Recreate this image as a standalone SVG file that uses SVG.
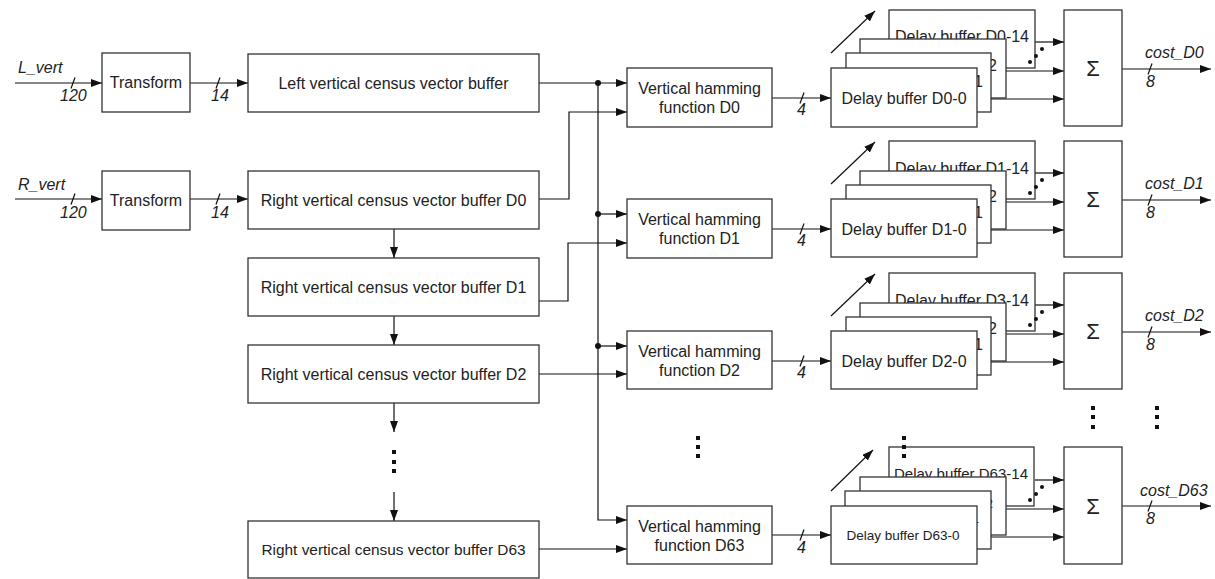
<svg xmlns="http://www.w3.org/2000/svg" width="1215" height="579" viewBox="0 0 1215 579">
<style>
.box{fill:#fff;stroke:#333;stroke-width:1.3}
.ln{fill:none;stroke:#111;stroke-width:1.2}
.ar{fill:none;stroke:#111;stroke-width:1.2;marker-end:url(#ah)}
.t{font-family:"Liberation Sans",Arial,sans-serif;font-size:16px;fill:#222}
.m{text-anchor:middle}
.e{text-anchor:end}
.i{font-style:italic}
.dot{fill:#111}
</style>
<defs>
<marker id="ah" markerUnits="userSpaceOnUse" markerWidth="11" markerHeight="8" refX="11" refY="4" orient="auto">
<path d="M0,0 L11,4 L0,8 z" fill="#111"/>
</marker>
</defs>
<rect width="1215" height="579" fill="#fff"/>

<!-- connectors -->
<g id="connectors">
  <path class="ar" d="M15,83 H102"/>
  <path class="ar" d="M190,83 H248"/>
  <path class="ar" d="M15,199 H102"/>
  <path class="ar" d="M190,199 H248"/>
  <path class="ln" d="M71,88.5 L75,77.5 M216,88.5 L220,77.5 M71,204.5 L75,193.5 M216,204.5 L220,193.5"/>
  <text class="t i" x="18" y="73">L_vert</text>
  <text class="t i" x="60" y="101">120</text>
  <text class="t i" x="211" y="101">14</text>
  <text class="t i" x="18" y="190">R_vert</text>
  <text class="t i" x="60" y="218">120</text>
  <text class="t i" x="211" y="218">14</text>

  <path class="ar" d="M394,229 V258"/>
  <path class="ar" d="M394,316 V345"/>
  <path class="ar" d="M394,403 V432"/>
  <path class="ar" d="M394,492 V521"/>

  <path class="ar" d="M539,83 H627"/>
  <path class="ar" d="M598,83 V520 H627"/>
  <path class="ar" d="M598,214 H627"/>
  <path class="ar" d="M598,346 H627"/>
  <circle class="dot" cx="598" cy="83" r="3"/>
  <circle class="dot" cx="598" cy="214" r="3"/>
  <circle class="dot" cx="598" cy="346" r="3"/>

  <path class="ar" d="M539,199 H569 V112 H627"/>
  <path class="ar" d="M539,301 H568 V243 H627"/>
  <path class="ar" d="M539,374 H627"/>
  <path class="ar" d="M539,549 H627"/>

  <g id="conn-D0">
    <path class="ar" d="M772,98 H831"/>
    <path class="ln" d="M800,103.5 L804,92.5"/>
    <text class="t i" x="797" y="115">4</text>
    <path class="ar" d="M831,53 L875,11"/>
    <path class="ar" d="M1035,42 H1064"/>
    <path class="ar" d="M1006,71 H1064"/>
    <path class="ar" d="M991,99 H1064"/>
    <path class="ar" d="M1122,69 H1211"/>
    <path class="ln" d="M1148,74.5 L1152,63.5"/>
    <text class="t i" x="1145" y="58">cost_D0</text>
    <text class="t i" x="1146" y="87">8</text>
  </g>
  <g id="conn-D1" transform="translate(0,131)">
    <path class="ar" d="M772,98 H831"/>
    <path class="ln" d="M800,103.5 L804,92.5"/>
    <text class="t i" x="797" y="115">4</text>
    <path class="ar" d="M831,53 L875,11"/>
    <path class="ar" d="M1035,42 H1064"/>
    <path class="ar" d="M1006,71 H1064"/>
    <path class="ar" d="M991,99 H1064"/>
    <path class="ar" d="M1122,69 H1211"/>
    <path class="ln" d="M1148,74.5 L1152,63.5"/>
    <text class="t i" x="1145" y="58">cost_D1</text>
    <text class="t i" x="1146" y="87">8</text>
  </g>
  <g id="conn-D2" transform="translate(0,263)">
    <path class="ar" d="M772,98 H831"/>
    <path class="ln" d="M800,103.5 L804,92.5"/>
    <text class="t i" x="797" y="115">4</text>
    <path class="ar" d="M831,53 L875,11"/>
    <path class="ar" d="M1035,42 H1064"/>
    <path class="ar" d="M1006,71 H1064"/>
    <path class="ar" d="M991,99 H1064"/>
    <path class="ar" d="M1122,69 H1211"/>
    <path class="ln" d="M1148,74.5 L1152,63.5"/>
    <text class="t i" x="1145" y="58">cost_D2</text>
    <text class="t i" x="1146" y="87">8</text>
  </g>
  <g id="conn-D63" transform="translate(0,438)">
    <path class="ar" d="M772,97 H831"/>
    <path class="ln" d="M800,102.5 L804,91.5"/>
    <text class="t i" x="797" y="115">4</text>
    <path class="ar" d="M831,53 L873,12"/>
    <path class="ar" d="M1035,42 H1064"/>
    <path class="ar" d="M1006,71 H1064"/>
    <path class="ar" d="M991,99 H1064"/>
    <path class="ar" d="M1122,68 H1211"/>
    <path class="ln" d="M1148,73.5 L1152,62.5"/>
    <text class="t i" x="1140" y="58">cost_D63</text>
    <text class="t i" x="1146" y="86">8</text>
  </g>
</g>

<g id="transform-L"><rect class="box" x="102" y="53" width="88" height="59"/><text class="t m" x="146" y="88">Transform</text></g>
<g id="transform-R"><rect class="box" x="102" y="171" width="88" height="59"/><text class="t m" x="146" y="205.5">Transform</text></g>
<g id="left-buffer"><rect class="box" x="248" y="54" width="291" height="58"/><text class="t m" x="393.5" y="88.5">Left vertical census vector buffer</text></g>
<g id="right-buffer-D0"><rect class="box" x="248" y="171" width="291" height="58"/><text class="t m" x="393.5" y="205.5">Right vertical census vector buffer D0</text></g>
<g id="right-buffer-D1"><rect class="box" x="248" y="258" width="291" height="58"/><text class="t m" x="393.5" y="292.5">Right vertical census vector buffer D1</text></g>
<g id="right-buffer-D2"><rect class="box" x="248" y="345" width="291" height="58"/><text class="t m" x="393.5" y="379.5">Right vertical census vector buffer D2</text></g>
<g id="right-buffer-D63"><rect class="box" x="248" y="521" width="291" height="57"/><text class="t m" x="393.5" y="555" style="font-size:15.4px">Right vertical census vector buffer D63</text></g>

<g id="hamming-D0"><rect class="box" x="627" y="68" width="145" height="59"/><text class="t m" x="699.5" y="94">Vertical hamming</text><text class="t m" x="699.5" y="113">function D0</text></g>
<g id="hamming-D1"><rect class="box" x="627" y="199" width="145" height="59"/><text class="t m" x="699.5" y="225">Vertical hamming</text><text class="t m" x="699.5" y="244">function D1</text></g>
<g id="hamming-D2"><rect class="box" x="627" y="331" width="145" height="58"/><text class="t m" x="699.5" y="357">Vertical hamming</text><text class="t m" x="699.5" y="376">function D2</text></g>
<g id="hamming-D63"><rect class="box" x="627" y="506" width="145" height="58"/><text class="t m" x="699.5" y="532">Vertical hamming</text><text class="t m" x="699.5" y="551">function D63</text></g>

<g id="stack-D0">
  <rect class="box" x="889" y="10" width="146" height="58"/><text class="t m" x="962" y="42">Delay buffer D0-14</text>
  <rect class="box" x="860" y="39" width="146" height="59"/><text class="t e" x="997" y="71">Delay buffer D0-2</text>
  <rect class="box" x="846" y="53" width="145" height="59"/><text class="t e" x="983" y="87">Delay buffer D0-1</text>
  <rect class="box" x="831" y="68" width="146" height="59"/><text class="t m" x="904" y="104">Delay buffer D0-0</text>
</g>
<g id="sum-D0"><rect class="box" x="1064" y="10" width="58" height="116"/><text class="t m" x="1093" y="76" style="font-size:22px">Σ</text></g>

<g id="stack-D1" transform="translate(0,131)">
  <rect class="box" x="889" y="10" width="146" height="58"/><text class="t m" x="962" y="43">Delay buffer D1-14</text>
  <rect class="box" x="860" y="40" width="146" height="58"/><text class="t e" x="997" y="71">Delay buffer D1-2</text>
  <rect class="box" x="846" y="54" width="145" height="58"/><text class="t e" x="983" y="87">Delay buffer D1-1</text>
  <rect class="box" x="831" y="68" width="146" height="58"/><text class="t m" x="904" y="104">Delay buffer D1-0</text>
</g>
<g id="sum-D1" transform="translate(0,131)"><rect class="box" x="1064" y="10" width="58" height="116"/><text class="t m" x="1093" y="76" style="font-size:22px">Σ</text></g>

<g id="stack-D2" transform="translate(0,263)">
  <rect class="box" x="889" y="10" width="146" height="58"/><text class="t m" x="962" y="43">Delay buffer D3-14</text>
  <rect class="box" x="860" y="40" width="146" height="58"/><text class="t e" x="997" y="71">Delay buffer D2-2</text>
  <rect class="box" x="846" y="54" width="145" height="58"/><text class="t e" x="983" y="87">Delay buffer D2-1</text>
  <rect class="box" x="831" y="68" width="146" height="58"/><text class="t m" x="904" y="104">Delay buffer D2-0</text>
</g>
<g id="sum-D2" transform="translate(0,263)"><rect class="box" x="1064" y="10" width="58" height="116"/><text class="t m" x="1093" y="76" style="font-size:22px">Σ</text></g>

<g id="stack-D63" transform="translate(0,438)">
  <rect class="box" x="889" y="9" width="145" height="59"/><text class="t m" x="961" y="41" style="font-size:15px">Delay buffer D63-14</text>
  <rect class="box" x="860" y="39" width="146" height="58"/><text class="t e" x="993" y="70" style="font-size:13.5px">Delay buffer D63-2</text>
  <rect class="box" x="845" y="53" width="146" height="58"/><text class="t e" x="979" y="85" style="font-size:13.5px">Delay buffer D63-1</text>
  <rect class="box" x="831" y="68" width="146" height="58"/><text class="t m" x="903" y="102" style="font-size:13.5px">Delay buffer D63-0</text>
</g>
<g id="sum-D63" transform="translate(0,438)"><rect class="box" x="1064" y="9" width="58" height="117"/><text class="t m" x="1093" y="76" style="font-size:22px">Σ</text></g>

<g id="ellipses" fill="#111">
  <rect x="392" y="450" width="4" height="4"/><rect x="392" y="460" width="4" height="4"/><rect x="392" y="469" width="4" height="4"/>
  <rect x="696" y="436" width="4" height="4"/><rect x="696" y="445" width="4" height="4"/><rect x="696" y="454" width="4" height="4"/>
  <rect x="902" y="436" width="4" height="4"/><rect x="902" y="445" width="4" height="4"/><rect x="902" y="454" width="4" height="4"/>
  <rect x="1091" y="406" width="4" height="4"/><rect x="1091" y="415" width="4" height="4"/><rect x="1091" y="425" width="4" height="4"/>
  <rect x="1155" y="406" width="4" height="4"/><rect x="1155" y="415" width="4" height="4"/><rect x="1155" y="425" width="4" height="4"/>
  <g id="diag-dots-D0"><circle cx="1030" cy="62" r="2"/><circle cx="1036" cy="56" r="2"/><circle cx="1042" cy="49" r="2"/></g>
  <g id="diag-dots-D1" transform="translate(0,131)"><circle cx="1030" cy="62" r="2"/><circle cx="1036" cy="56" r="2"/><circle cx="1042" cy="49" r="2"/></g>
  <g id="diag-dots-D2" transform="translate(0,263)"><circle cx="1030" cy="62" r="2"/><circle cx="1036" cy="56" r="2"/><circle cx="1042" cy="49" r="2"/></g>
  <g id="diag-dots-D63" transform="translate(0,438)"><circle cx="1030" cy="62" r="2"/><circle cx="1036" cy="56" r="2"/><circle cx="1042" cy="49" r="2"/></g>
</g>
</svg>
